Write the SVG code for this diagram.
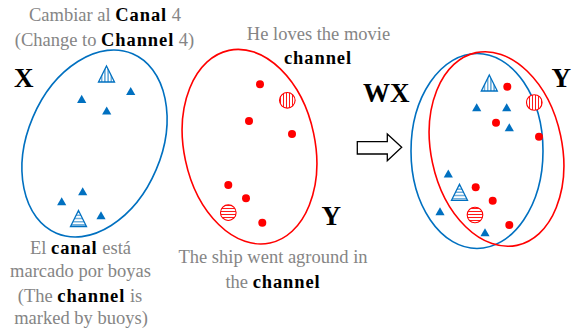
<svg xmlns="http://www.w3.org/2000/svg" width="575" height="329" viewBox="0 0 575 329">
<style>
.gray{font-family:"Liberation Serif","Times New Roman",serif;font-size:18.5px;fill:#858585;text-anchor:middle}
.b{font-weight:bold;fill:#000;letter-spacing:0.9px}
.big{font-family:"Liberation Serif","Times New Roman",serif;font-size:27px;font-weight:bold;fill:#000}
.be{fill:none;stroke:#0070C0;stroke-width:1.6}
.re{fill:none;stroke:#FF0000;stroke-width:1.6}
.bt{fill:#0070C0}
.rd{fill:#FF0000}
.htv{fill:url(#bvl);stroke:#0070C0;stroke-width:1.3}
.hth{fill:url(#bhl);stroke:#0070C0;stroke-width:1.3}
.hcv{fill:url(#rvl);stroke:#FF0000;stroke-width:1.1}
.hch{fill:url(#rhl);stroke:#FF0000;stroke-width:1.1}
</style>
<defs>
<pattern id="bvl" patternUnits="userSpaceOnUse" width="3.2" height="10"><rect width="3.2" height="10" fill="#fff"/><line x1="1.6" y1="0" x2="1.6" y2="10" stroke="#0070C0" stroke-width="0.9"/></pattern>
<pattern id="bhl" patternUnits="userSpaceOnUse" width="10" height="3.2"><rect width="10" height="3.2" fill="#fff"/><line x1="0" y1="1.6" x2="10" y2="1.6" stroke="#0070C0" stroke-width="0.9"/></pattern>
<pattern id="rvl" patternUnits="userSpaceOnUse" width="3" height="10"><rect width="3" height="10" fill="#fff"/><line x1="1.5" y1="0" x2="1.5" y2="10" stroke="#FF0000" stroke-width="0.9"/></pattern>
<pattern id="rhl" patternUnits="userSpaceOnUse" width="10" height="3"><rect width="10" height="3" fill="#fff"/><line x1="0" y1="1.5" x2="10" y2="1.5" stroke="#FF0000" stroke-width="0.9"/></pattern>
<path id="tri" d="M0,-4.5 L4.6,3.6 L-4.6,3.6 Z"/>
<path id="htri" d="M0,0 L8,16 L-8,16 Z"/>
</defs>

<g id="set-X">
<ellipse class="be" cx="94.5" cy="143.5" rx="67" ry="97.5" transform="rotate(23 94.5 143.5)"/>
<use href="#htri" x="106.5" y="66" class="htv"/>
<use href="#tri" x="130.7" y="91.5" class="bt"/>
<use href="#tri" x="81.7" y="99.3" class="bt"/>
<use href="#tri" x="106.7" y="111" class="bt"/>
<use href="#tri" x="82.7" y="191.7" class="bt"/>
<use href="#tri" x="61.7" y="201.7" class="bt"/>
<use href="#tri" x="101" y="215.7" class="bt"/>
<use href="#htri" x="78.5" y="210.5" class="hth"/>
<text class="big" x="14" y="87">X</text>
</g>

<g id="set-Y">
<ellipse class="re" cx="249.5" cy="146.7" rx="65.5" ry="98.5" transform="rotate(-12 249.5 146.7)"/>
<circle class="rd" cx="260" cy="84.3" r="4"/>
<circle class="hcv" cx="287.3" cy="100.3" r="7.8"/>
<circle class="rd" cx="249" cy="121" r="4"/>
<circle class="rd" cx="292" cy="134" r="4"/>
<circle class="rd" cx="228.3" cy="185" r="4"/>
<circle class="rd" cx="246" cy="198.3" r="4"/>
<circle class="hch" cx="228.3" cy="212.7" r="7.8"/>
<circle class="rd" cx="262.3" cy="222.7" r="4"/>
<text class="big" x="321.5" y="225">Y</text>
</g>

<g id="set-WX-Y">
<ellipse class="be" cx="477" cy="151" rx="66" ry="97.5"/>
<ellipse class="re" cx="496.5" cy="149" rx="65.5" ry="98.5" transform="rotate(-12 496.5 149)"/>
<use href="#htri" x="489.3" y="75" class="htv"/>
<circle class="rd" cx="507.3" cy="86.7" r="4"/>
<circle class="hcv" cx="534.3" cy="102.5" r="7.8"/>
<use href="#tri" x="476.7" y="107.7" class="bt"/>
<use href="#tri" x="506.7" y="107.7" class="bt"/>
<circle class="rd" cx="496" cy="122.7" r="4"/>
<use href="#tri" x="509.3" y="127.7" class="bt"/>
<circle class="rd" cx="539" cy="136.7" r="4"/>
<use href="#tri" x="448.3" y="174" class="bt"/>
<circle class="rd" cx="475.7" cy="187.3" r="4"/>
<use href="#htri" x="459.5" y="184.3" class="hth"/>
<circle class="rd" cx="492.7" cy="200.7" r="4"/>
<use href="#tri" x="440" y="211.7" class="bt"/>
<circle class="hch" cx="475" cy="215" r="7.8"/>
<circle class="rd" cx="509.3" cy="225" r="4"/>
<use href="#tri" x="485" y="232.7" class="bt"/>
<text class="big" x="363" y="101.5">WX</text>
<text class="big" x="551.5" y="87">Y</text>
</g>

<g id="connectors">
<path d="M357.3,141.7 H387.3 V134 L401.7,147.3 L387.3,160.7 V154 H357.3 Z" fill="#fff" stroke="#000" stroke-width="1.3"/>
</g>

<g id="captions">
<text class="gray" x="105" y="21">Cambiar al <tspan class="b">Canal</tspan> 4</text>
<text class="gray" x="104.5" y="45.5">(Change to <tspan class="b">Channel</tspan> 4)</text>
<text class="gray" x="318.5" y="40">He loves the movie</text>
<text class="gray" x="318" y="64"><tspan class="b">channel</tspan></text>
<text class="gray" x="80.5" y="254">El <tspan class="b">canal</tspan> está</text>
<text class="gray" x="80.5" y="277">marcado por boyas</text>
<text class="gray" x="80" y="301.5">(The <tspan class="b">channel</tspan> is</text>
<text class="gray" x="81" y="323.5">marked by buoys)</text>
<text class="gray" x="273" y="263">The ship went aground in</text>
<text class="gray" x="273" y="288">the <tspan class="b">channel</tspan></text>
</g>
</svg>
